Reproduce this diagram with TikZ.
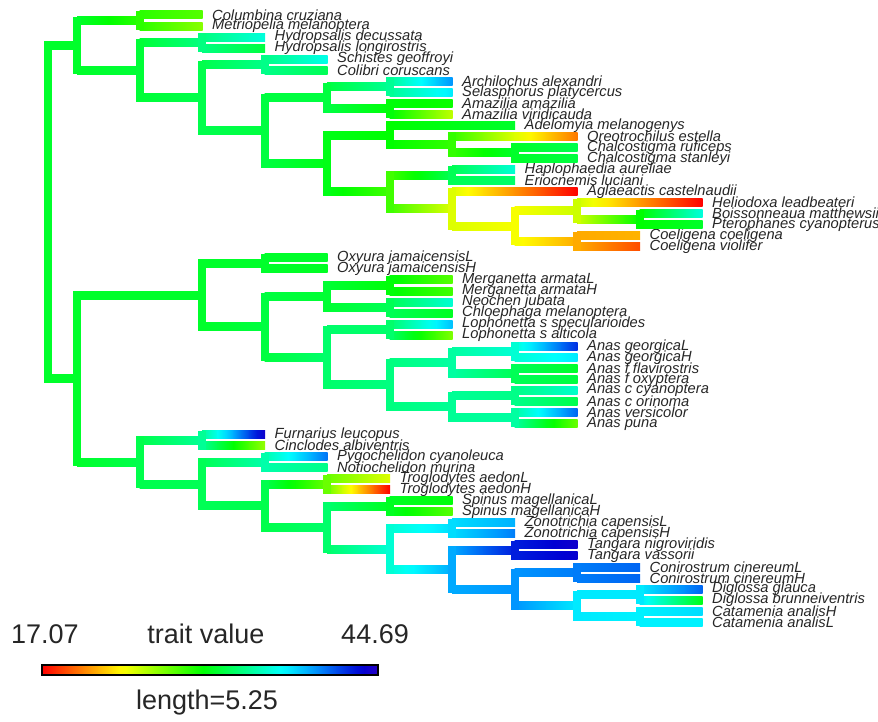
\documentclass[tikz,border=0pt]{standalone}
\usepackage{fontspec}
\setmainfont{Liberation Sans}
\usetikzlibrary{calc}
\newcommand\hcol[2]{\pgfmathsetmacro\tmpb{(#2>205)?(1-(#2-205)*0.005):1}\definecolor{#1}{Hsb}{#2,1,\tmpb}}
\newcommand\N[4]{\coordinate (#1) at (#2,#3);\expandafter\xdef\csname hue#1\endcsname{#4}}
\newcommand\E[2]{%
  \edef\hA{\csname hue#1\endcsname}\edef\hB{\csname hue#2\endcsname}%
  \foreach \k in {0,1,2,3}{%
    \pgfmathsetmacro\ha{\hA+(\hB-\hA)*\k/4}%
    \pgfmathsetmacro\hb{\hA+(\hB-\hA)*(\k+1)/4}%
    \hcol{cA}{\ha}\hcol{cB}{\hb}%
    \shade[left color=cA,right color=cB] ($(#1|-#2)!{\k/4}!(#2)+(0,-4)$) rectangle ($(#1|-#2)!{(\k+1)/4}!(#2)+(0.6,4)$);
  }}
\newcommand\V[3]{\edef\hV{\csname hue#1\endcsname}\hcol{cV}{\hV}\draw[line width=8pt,line cap=rect,cV] (#1|-#2) -- (#1|-#3);}
\newcommand\B[3]{\E{#1}{#2}\E{#1}{#3}\V{#1}{#2}{#3}}
\newcommand\T[5]{\N{#1}{#2}{#3}{#4}\node[lab] (l#1) at (#1) {#5};}
\begin{document}
\begin{tikzpicture}[x=1pt,y=-1pt,
  lab/.style={anchor=west,xshift=10pt,inner sep=0pt,text=black!85,font=\fontsize{14.7}{14.7}\selectfont\itshape},
  leg/.style={inner sep=0pt,text=black!85,font=\fontsize{27}{27}\selectfont}]
\fill[white] (0,0) rectangle (878,722);
\useasboundingbox (0,0) rectangle (878,722);
% tips
\T{t1}{202}{15.00}{100}{Columbina cruziana}
\T{t2}{202}{26.04}{88}{Metriopelia melanoptera}
\T{t3}{264.5}{37.08}{172}{Hydropsalis decussata}
\T{t4}{264.5}{48.12}{135}{Hydropsalis longirostris}
\T{t5}{327}{59.16}{175}{Schistes geoffroyi}
\T{t6}{327}{70.20}{140}{Colibri coruscans}
\T{t7}{452}{81.24}{205}{Archilochus alexandri}
\T{t8}{452}{92.28}{185}{Selasphorus platycercus}
\T{t9}{452}{103.32}{118}{Amazilia amazilia}
\T{t10}{452}{114.36}{75}{Amazilia viridicauda}
\T{t11}{514.5}{125.40}{130}{Adelomyia melanogenys}
\T{t12}{577}{136.44}{28}{Oreotrochilus estella}
\T{t13}{577}{147.48}{138}{Chalcostigma ruficeps}
\T{t14}{577}{158.52}{135}{Chalcostigma stanleyi}
\T{t15}{514.5}{169.56}{170}{Haplophaedia aureliae}
\T{t16}{514.5}{180.60}{145}{Eriocnemis luciani}
\T{t17}{577}{191.64}{0}{Aglaeactis castelnaudii}
\T{t18}{702}{202.68}{0}{Heliodoxa leadbeateri}
\T{t19}{702}{213.72}{172}{Boissonneaua matthewsii}
\T{t20}{702}{224.76}{130}{Pterophanes cyanopterus}
\T{t21}{639.5}{235.80}{42}{Coeligena coeligena}
\T{t22}{639.5}{246.84}{18}{Coeligena violifer}
\T{t23}{327}{257.88}{130}{Oxyura jamaicensisL}
\T{t24}{327}{268.92}{128}{Oxyura jamaicensisH}
\T{t25}{452}{279.96}{100}{Merganetta armataL}
\T{t26}{452}{291.00}{105}{Merganetta armataH}
\T{t27}{452}{302.04}{170}{Neochen jubata}
\T{t28}{452}{313.08}{128}{Chloephaga melanoptera}
\T{t29}{452}{324.12}{195}{Lophonetta s specularioides}
\T{t30}{452}{335.16}{90}{Lophonetta s alticola}
\T{t31}{577}{346.20}{228}{Anas georgicaL}
\T{t32}{577}{357.24}{185}{Anas georgicaH}
\T{t33}{577}{368.28}{130}{Anas f flavirostris}
\T{t34}{577}{379.32}{135}{Anas f oxyptera}
\T{t35}{577}{390.36}{168}{Anas c cyanoptera}
\T{t36}{577}{401.40}{138}{Anas c orinoma}
\T{t37}{577}{412.44}{215}{Anas versicolor}
\T{t38}{577}{423.48}{95}{Anas puna}
\T{t39}{264.5}{434.52}{245}{Furnarius leucopus}
\T{t40}{264.5}{445.56}{85}{Cinclodes albiventris}
\T{t41}{327}{456.60}{212}{Pygochelidon cyanoleuca}
\T{t42}{327}{467.64}{152}{Notiochelidon murina}
\T{t43}{389.5}{478.68}{68}{Troglodytes aedonL}
\T{t44}{389.5}{489.72}{0}{Troglodytes aedonH}
\T{t45}{452}{500.76}{122}{Spinus magellanicaL}
\T{t46}{452}{511.80}{100}{Spinus magellanicaH}
\T{t47}{514.5}{522.84}{198}{Zonotrichia capensisL}
\T{t48}{514.5}{533.88}{210}{Zonotrichia capensisH}
\T{t49}{577}{544.92}{245}{Tangara nigroviridis}
\T{t50}{577}{555.96}{242}{Tangara vassorii}
\T{t51}{639.5}{567.00}{215}{Conirostrum cinereumL}
\T{t52}{639.5}{578.04}{215}{Conirostrum cinereumH}
\T{t53}{702}{589.08}{215}{Diglossa glauca}
\T{t54}{702}{600.12}{125}{Diglossa brunneiventris}
\T{t55}{702}{611.16}{188}{Catamenia analisH}
\T{t56}{702}{622.20}{183}{Catamenia analisL}
% internal nodes
\N{root}{48}{211.96}{130}
\N{a1}{77}{45.33}{130}
\N{pig}{139.5}{20.52}{110}
\N{b2}{139.5}{70.135}{133}
\N{nj}{202}{42.60}{150}
\N{c3}{202}{97.67}{138}
\N{sc}{264.5}{64.68}{152}
\N{d1}{264.5}{130.66}{135}
\N{u5}{327}{97.80}{135}
\N{ar}{389.5}{86.76}{155}
\N{am}{389.5}{108.84}{122}
\N{l5}{327}{163.52}{125}
\N{a6}{389.5}{135.06}{120}
\N{o7}{452}{144.72}{108}
\N{ch}{514.5}{153.00}{130}
\N{b6}{389.5}{191.985}{105}
\N{hp}{452}{175.08}{140}
\N{g7}{452}{208.89}{68}
\N{g8}{514.5}{226.14}{62}
\N{he}{577}{210.96}{72}
\N{bo}{639.5}{219.24}{120}
\N{co}{577}{241.32}{40}
\N{d}{77}{378.59}{130}
\N{dk}{202}{295.14}{130}
\N{ox}{264.5}{263.40}{130}
\N{e4}{264.5}{326.88}{135}
\N{m5}{327}{296.52}{132}
\N{mg}{389.5}{285.48}{122}
\N{nc}{389.5}{307.56}{140}
\N{la}{327}{357.24}{145}
\N{lo}{389.5}{329.64}{145}
\N{an}{389.5}{384.84}{150}
\N{u7}{452}{362.76}{158}
\N{ge}{514.5}{351.72}{170}
\N{fl}{514.5}{373.80}{140}
\N{w7}{452}{406.92}{155}
\N{cy}{514.5}{395.88}{152}
\N{vp}{514.5}{417.96}{158}
\N{p2}{139.5}{462.03}{138}
\N{fu}{202}{440.04}{155}
\N{p3}{202}{484.03}{140}
\N{py}{264.5}{462.12}{160}
\N{p4}{264.5}{505.935}{138}
\N{tr}{327}{484.20}{95}
\N{p5}{327}{527.67}{145}
\N{sp}{389.5}{506.28}{128}
\N{p6}{389.5}{549.06}{170}
\N{zo}{452}{528.36}{188}
\N{p7}{452}{569.76}{200}
\N{ta}{514.5}{550.44}{232}
\N{p8}{514.5}{589.08}{205}
\N{cn}{577}{572.52}{210}
\N{p9}{577}{605.64}{185}
\N{dg}{639.5}{594.60}{185}
\N{ca}{639.5}{616.68}{183}
% branches
\B{root}{a1}{d}
\B{a1}{pig}{b2}
\B{pig}{t1}{t2}
\B{b2}{nj}{c3}
\B{nj}{t3}{t4}
\B{c3}{sc}{d1}
\B{sc}{t5}{t6}
\B{d1}{u5}{l5}
\B{u5}{ar}{am}
\B{ar}{t7}{t8}
\B{am}{t9}{t10}
\B{l5}{a6}{b6}
\B{a6}{t11}{o7}
\B{o7}{t12}{ch}
\B{ch}{t13}{t14}
\B{b6}{hp}{g7}
\B{hp}{t15}{t16}
\B{g7}{t17}{g8}
\B{g8}{he}{co}
\B{he}{t18}{bo}
\B{bo}{t19}{t20}
\B{co}{t21}{t22}
\B{d}{dk}{p2}
\B{dk}{ox}{e4}
\B{ox}{t23}{t24}
\B{e4}{m5}{la}
\B{m5}{mg}{nc}
\B{mg}{t25}{t26}
\B{nc}{t27}{t28}
\B{la}{lo}{an}
\B{lo}{t29}{t30}
\B{an}{u7}{w7}
\B{u7}{ge}{fl}
\B{ge}{t31}{t32}
\B{fl}{t33}{t34}
\B{w7}{cy}{vp}
\B{cy}{t35}{t36}
\B{vp}{t37}{t38}
\B{p2}{fu}{p3}
\B{fu}{t39}{t40}
\B{p3}{py}{p4}
\B{py}{t41}{t42}
\B{p4}{tr}{p5}
\B{tr}{t43}{t44}
\B{p5}{sp}{p6}
\B{sp}{t45}{t46}
\B{p6}{zo}{p7}
\B{zo}{t47}{t48}
\B{p7}{ta}{p8}
\B{ta}{t49}{t50}
\B{p8}{cn}{p9}
\B{cn}{t51}{t52}
\B{p9}{dg}{ca}
\B{dg}{t53}{t54}
\B{ca}{t55}{t56}
% legend
\node[leg,anchor=base west] (vmin) at (11,643) {17.07};
\node[leg,anchor=base] (ttl) at (206,643) {trait value};
\node[leg,anchor=base east] (vmax) at (409,643) {44.69};
\coordinate (barL) at (42,665);
\coordinate (barR) at (378,675);
\foreach \k in {0,...,23}{%
  \pgfmathsetmacro\ha{252*\k/24}\pgfmathsetmacro\hb{252*(\k+1)/24}%
  \hcol{cA}{\ha}\hcol{cB}{\hb}%
  \shade[left color=cA,right color=cB] ($(barL)!{\k/24}!(barL-|barR)$) rectangle ($(barR-|barL)!{(\k+1)/24}!(barR)+(0.4,0)$);
}
\draw[line width=1.5pt] (barL) rectangle (barR);
\node[leg,anchor=base] (len) at (207,709) {length=5.25};
\end{tikzpicture}
\end{document}
